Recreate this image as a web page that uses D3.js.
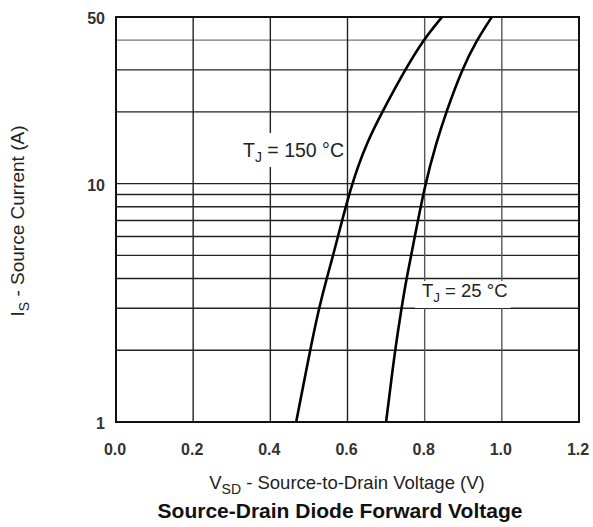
<!DOCTYPE html>
<html><head><meta charset="utf-8">
<script src="https://cdn.jsdelivr.net/npm/d3@7"></script>
<style>body{margin:0;background:#fff;}</style>
</head><body>
<script>
const xTicks = [0.0, 0.2, 0.4, 0.6, 0.8, 1.0, 1.2];
const yTickLabels = [1, 10, 50];
const yGrid = [1,2,3,4,5,6,7,8,9,10,20,30,40,50];
const current = [1, 2, 3, 4, 5, 10, 15, 20, 30, 40, 50];
const v150 = [0.467, 0.503, 0.526, 0.546, 0.563, 0.610, 0.651, 0.690, 0.749, 0.796, 0.845];
const v25  = [0.700, 0.723, 0.740, 0.753, 0.765, 0.801, 0.831, 0.856, 0.896, 0.935, 0.974];

const W = 593, H = 527;
const mL = 116, mR = 579, mT = 17, mB = 422;
const svg = d3.select("body").append("svg").attr("width", W).attr("height", H);
const x = d3.scaleLinear().domain([0, 1.2]).range([mL, mR]);
const y = d3.scaleLog().domain([1, 50]).range([mB, mT]);
const font = "Liberation Sans, Arial, sans-serif";

// grid
svg.append("g").selectAll("line").data(yGrid).join("line")
  .attr("x1", mL).attr("x2", mR)
  .attr("y1", d => y(d)).attr("y2", d => y(d))
  .attr("stroke", d => d === 40 ? "#777" : "#222").attr("stroke-width", 1.4);
svg.append("g").selectAll("line").data(xTicks).join("line")
  .attr("y1", mT).attr("y2", mB)
  .attr("x1", d => x(d)).attr("x2", d => x(d))
  .attr("stroke", d => (d === 0.8 || d === 1.0) ? "#555" : "#222").attr("stroke-width", 1.4);

// border
svg.append("rect").attr("x", mL).attr("y", mT).attr("width", mR-mL).attr("height", mB-mT)
  .attr("fill", "none").attr("stroke", "#111").attr("stroke-width", 2);

// curves
const line = d3.line().x(d => x(d[0])).y(d => y(d[1])).curve(d3.curveBasis);
[v150, v25].forEach(v => {
  svg.append("path").datum(v.map((vv, i) => [vv, current[i]]))
    .attr("d", line).attr("fill", "none").attr("stroke", "#000").attr("stroke-width", 2.6);
});

// labels with white boxes
function label(bx, by, bw, bh, tx, ty, fs, sub, rest) {
  svg.append("rect").attr("x", bx).attr("y", by).attr("width", bw).attr("height", bh).attr("fill", "#fff");
  const t = svg.append("text").attr("x", tx).attr("y", ty).attr("font-family", font).attr("font-size", fs).attr("fill", "#222");
  t.append("tspan").text("T");
  t.append("tspan").attr("dy", 5).attr("font-size", fs * 0.72).text(sub);
  t.append("tspan").attr("dy", -5).text(rest);
}
label(236, 133, 108, 34, 243, 157, 19.5, "J", " = 150  °C");
label(415, 281, 96, 27, 422, 297, 18.5, "J", " = 25 °C");

// tick labels
svg.append("g").selectAll("text").data(xTicks).join("text")
  .attr("x", d => x(d) - 1).attr("y", 455).attr("text-anchor", "middle")
  .attr("font-family", font).attr("font-size", 16).attr("font-weight", "bold").attr("fill", "#333")
  .text(d => d.toFixed(1));
svg.append("g").selectAll("text").data(yTickLabels).join("text")
  .attr("x", 105).attr("y", d => y(d) + 7).attr("text-anchor", "end")
  .attr("font-family", font).attr("font-size", 16).attr("font-weight", "bold").attr("fill", "#333")
  .text(d => d);

// axis titles
const xt = svg.append("text").attr("x", 347).attr("y", 489).attr("text-anchor", "middle")
  .attr("font-family", font).attr("font-size", 18.5).attr("fill", "#222");
xt.append("tspan").text("V");
xt.append("tspan").attr("dy", 5).attr("font-size", 14).text("SD");
xt.append("tspan").attr("dy", -5).text(" - Source-to-Drain Voltage (V)");

const yt = svg.append("text").attr("transform", "translate(24,221) rotate(-90)").attr("text-anchor", "middle")
  .attr("font-family", font).attr("font-size", 19).attr("fill", "#222");
yt.append("tspan").text("I");
yt.append("tspan").attr("dy", 5).attr("font-size", 14).text("S");
yt.append("tspan").attr("dy", -5).text(" - Source Current (A)");

svg.append("text").attr("x", 340).attr("y", 518).attr("text-anchor", "middle")
  .attr("font-family", font).attr("font-size", 21).attr("font-weight", "bold").attr("fill", "#111")
  .text("Source-Drain Diode Forward Voltage");
</script>
</body></html>
